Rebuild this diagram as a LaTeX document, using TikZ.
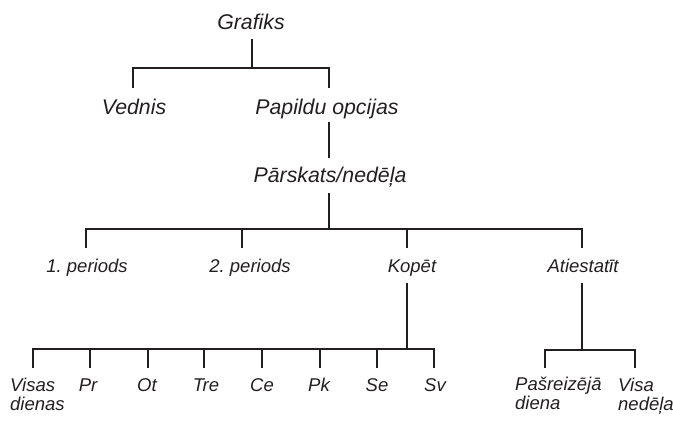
\documentclass[tikz,border=0pt]{standalone}
\usepackage{fontspec}
\setmainfont{Liberation Sans}
\frenchspacing
\definecolor{ink}{HTML}{231F20}
\begin{document}
\begin{tikzpicture}[x=1pt,y=-1pt,
  big/.style={font=\fontsize{21.3}{24}\selectfont\itshape, text=ink, inner sep=0pt, anchor=base},
  small/.style={font=\fontsize{18.5}{19}\selectfont\itshape, text=ink, inner sep=0pt, anchor=base},
  twoline/.style={font=\fontsize{18.5}{19}\selectfont\itshape, text=ink, inner sep=0pt, anchor=north west, align=left},
  conn/.style={draw=ink, line width=1.6pt}]
\useasboundingbox (0,0) rectangle (673,423);
% nodes
\node[big] (graf) at (251,29) {Grafiks};
\node[big] (ved) at (134,114) {Vednis};
\node[big] (pap) at (327,114) {Papildu opcijas};
\node[big] (par) at (330,182) {Pārskats/nedēļa};
\node[small] (p1) at (87,272) {1.\ periods};
\node[small] (p2) at (250,272) {2.\ periods};
\node[small] (kop) at (412,272) {Kopēt};
\node[small] (ati) at (583,272) {Atiestatīt};
\node[twoline] (visas) at (10,378) {Visas\\dienas};
\node[small] (pr) at (88,391) {Pr};
\node[small] (ot) at (147,391) {Ot};
\node[small] (tre) at (206,391) {Tre};
\node[small] (ce) at (262,391) {Ce};
\node[small] (pk) at (319,391) {Pk};
\node[small] (se) at (377,391) {Se};
\node[small] (sv) at (435,391) {Sv};
\node[twoline] (pasr) at (515,377) {Pašreizējā\\diena};
\node[twoline] (visa) at (618,378) {Visa\\nedēļa};
% connector coordinates
\coordinate (g0) at (252,39);   \coordinate (g1) at (252,68);
\coordinate (vt) at (133,88);   \coordinate (pt) at (329,88);
\coordinate (pa0) at (329,122); \coordinate (pa1) at (329,158);
\coordinate (q0) at (329,193);  \coordinate (q1) at (329,229);
\coordinate (p1t) at (86,248);  \coordinate (p2t) at (242,248);
\coordinate (kt) at (407,248);  \coordinate (at) at (582,248);
\coordinate (k0) at (407,283);  \coordinate (k1) at (407,349);
\coordinate (a0) at (582,283);  \coordinate (a1) at (582,350);
\coordinate (d1) at (33,368);  \coordinate (d2) at (90,368);
\coordinate (d3) at (148,368); \coordinate (d4) at (204,368);
\coordinate (d5) at (262,368); \coordinate (d6) at (320,368);
\coordinate (d7) at (377,368); \coordinate (d8) at (434,368);
\coordinate (e1) at (545,368); \coordinate (e2) at (635,368);
% level 1
\draw[conn] (g0) -- (g1);
\draw[conn] (vt) |- (g1) -| (pt);
% Papildu -> Pārskats
\draw[conn] (pa0) -- (pa1);
% Pārskats -> four
\draw[conn] (q0) -- (q1);
\draw[conn] (p1t) |- (q1) -| (at);
\draw[conn] (p2t) -- (p2t|-q1);
\draw[conn] (kt) -- (kt|-q1);
% Kopēt -> days
\draw[conn] (k0) -- (k1);
\draw[conn] (d1) |- (k1) -| (d8);
\foreach \d in {d2,d3,d4,d5,d6,d7} \draw[conn] (\d) -- (\d|-k1);
% Atiestatīt -> two
\draw[conn] (a0) -- (a1);
\draw[conn] (e1) |- (a1) -| (e2);
\end{tikzpicture}
\end{document}
